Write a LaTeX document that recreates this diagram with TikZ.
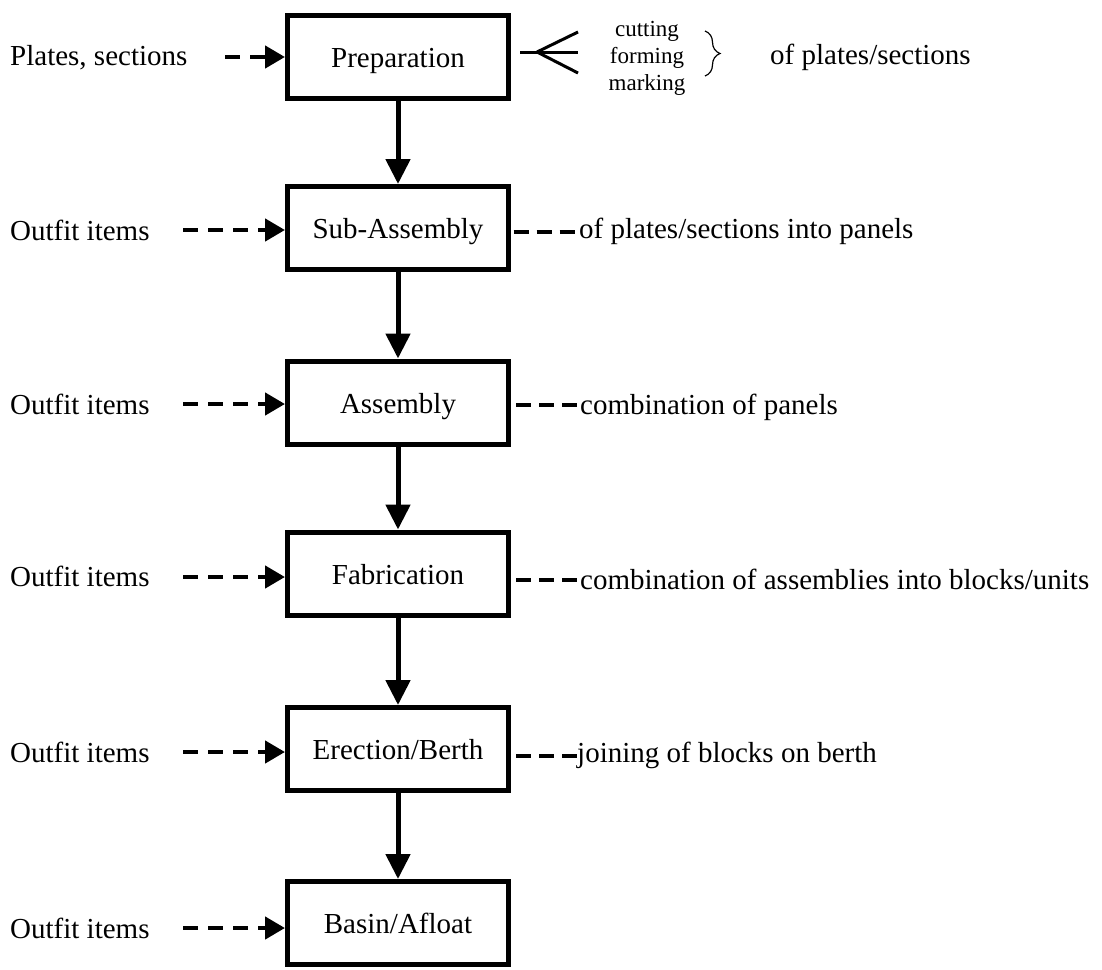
\documentclass[tikz,border=0pt]{standalone}
\usepackage{fontspec}
\setmainfont{Liberation Serif}
\usetikzlibrary{arrows.meta,decorations.pathreplacing}
\tikzset{
  stage/.style={draw, line width=5pt, minimum width=221pt, minimum height=83pt, inner sep=0pt, text height=21pt, text depth=0pt, font=\fontsize{29}{34}\selectfont},
  lbl/.style={anchor=west, inner sep=0pt, font=\fontsize{29}{34}\selectfont},
  flow/.style={line width=5pt, -{Triangle[length=25pt,width=24pt]}},
  feed/.style={line width=4.5pt, dash pattern=on 15pt off 10pt, -{Triangle[length=20pt,width=22pt]}},
  note/.style={line width=4.5pt, dash pattern=on 15pt off 8pt},
  thin/.style={line width=3pt}
}
\begin{document}
\begin{tikzpicture}[x=1pt,y=-1pt]
\useasboundingbox (0,0) rectangle (1102,969);
% stages
\node[stage] (prep) at (398,56.5) {Preparation};
\node[stage] (sub)  at (398,228) {Sub-Assembly};
\node[stage] (asm)  at (398,402.5) {Assembly};
\node[stage] (fab)  at (398,573.5) {Fabrication};
\node[stage] (ere)  at (398,749) {Erection/Berth};
\node[stage] (bas)  at (398,923) {Basin/Afloat};
% main flow
\draw[flow] (prep.south) -- (sub.north);
\draw[flow] (sub.south) -- (asm.north);
\draw[flow] (asm.south) -- (fab.north);
\draw[flow] (fab.south) -- (ere.north);
\draw[flow] (ere.south) -- (bas.north);
% left inputs
\node[lbl] (in0) at (10,58) {Plates, sections};
\node[lbl] (in1) at (10,230) {Outfit items};
\node[lbl] (in2) at (10,404) {Outfit items};
\node[lbl] (in3) at (10,576) {Outfit items};
\node[lbl] (in4) at (10,752) {Outfit items};
\node[lbl] (in5) at (10,928) {Outfit items};
\coordinate (s0) at (225,57);
\coordinate (s1) at (183,230);
\coordinate (s2) at (183,404);
\coordinate (s3) at (183,577);
\coordinate (s4) at (183,752);
\coordinate (s5) at (183,928);
\draw[feed] (s0) -- (s0 -| prep.west);
\draw[feed] (s1) -- (s1 -| sub.west);
\draw[feed] (s2) -- (s2 -| asm.west);
\draw[feed] (s3) -- (s3 -| fab.west);
\draw[feed] (s4) -- (s4 -| ere.west);
\draw[feed] (s5) -- (s5 -| bas.west);
% right notes
\node[lbl] (r1) at (579,231) {of plates/sections into panels};
\node[lbl] (r2) at (580,407) {combination of panels};
\node[lbl] (r3) at (580,579) {combination of assemblies into blocks/units};
\node[lbl] (r4) at (577,755) {joining of blocks on berth};
\draw[note] (sub.east |- 0,232) ++(2.5,0) -- (r1.west |- 0,232);
\draw[note] (asm.east |- 0,405) ++(5,0) -- (r2.west |- 0,405);
\draw[note] (fab.east |- 0,580) ++(5,0) -- (r3.west |- 0,580);
\draw[note] (ere.east |- 0,756) ++(5,0) -- (r4.west |- 0,756);
% preparation details
\coordinate (f0) at (520,52);
\coordinate (fj) at (537,52);
\coordinate (fm) at (578,52);
\coordinate (ft) at (578,32);
\coordinate (fb) at (578,73);
\draw[thin] (f0) -- (fm);
\draw[thin] (fj) -- (ft);
\draw[thin] (fj) -- (fb);
\node[align=center, inner sep=0pt, font=\fontsize{23}{27}\selectfont] (ops) at (647,58) {cutting\\forming\\marking};
\coordinate (b1) at (705,31);
\coordinate (b2) at (705,76);
\draw[line width=1.2pt, decorate, decoration={brace, amplitude=15pt, aspect=0.5}] (b1) -- (b2);
\node[lbl] (obj) at (770,57) {of plates/sections};
\end{tikzpicture}
\end{document}
